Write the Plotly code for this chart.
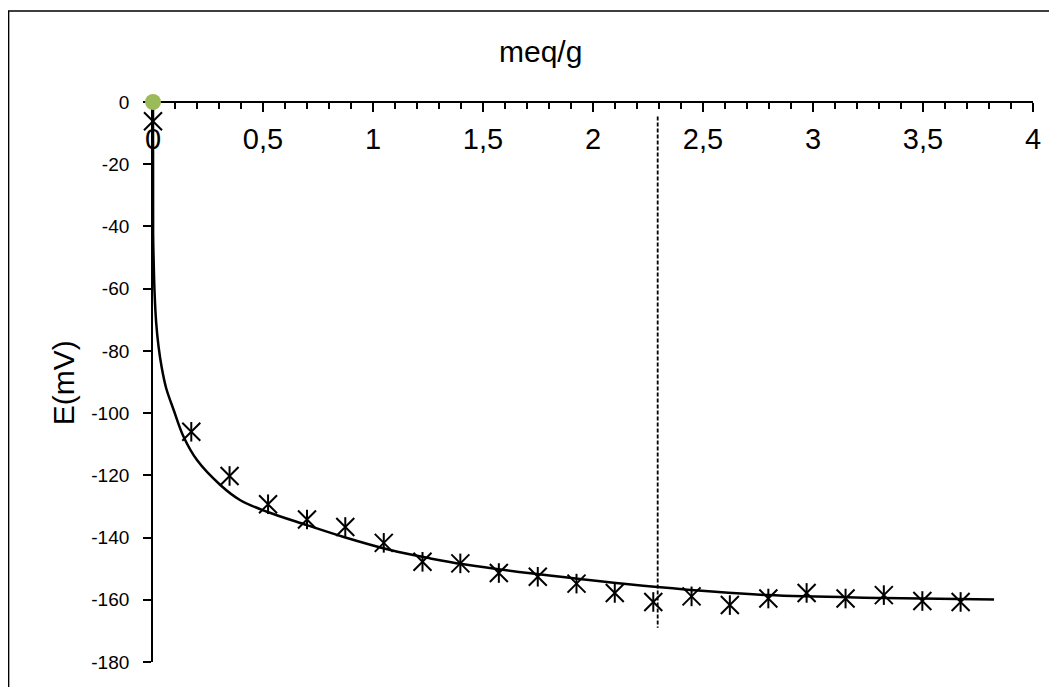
import plotly.graph_objects as go

# Measured points (asterisks)
x_meas = [0.0, 0.174, 0.348, 0.523, 0.700, 0.874, 1.049, 1.225, 1.397, 1.572, 1.749,
          1.925, 2.099, 2.274, 2.448, 2.622, 2.797, 2.971, 3.148, 3.322, 3.497, 3.671]
y_meas = [-6.2, -106.0, -120.2, -129.3, -134.2, -136.6, -141.7, -147.8, -148.3, -151.4, -152.6,
          -154.8, -157.8, -160.7, -158.9, -161.7, -159.6, -157.8, -159.6, -158.5, -160.4, -160.7]

# Fitted curve
x_fit = [0.0, 0.0005, 0.003, 0.007, 0.014, 0.025, 0.040, 0.060, 0.094, 0.139,
         0.200, 0.306, 0.397, 0.518, 0.700, 0.867, 1.079, 1.261, 1.412, 1.716,
         2.292, 2.792, 3.322, 3.823]
y_fit = [0.0, -42.0, -51.0, -61.0, -70.5, -78.5, -85.5, -92.0, -99.0, -107.6,
         -115.1, -123.1, -128.0, -131.7, -136.0, -139.8, -144.0, -146.7, -148.6, -151.5,
         -155.9, -158.5, -159.4, -159.9]

# Origin point
x_origin = [0.0]
y_origin = [0.0]

# Equivalence line
x_eq = [2.294, 2.294]
y_eq = [-4.7, -169.0]

x_tickvals = [0, 0.5, 1, 1.5, 2, 2.5, 3, 3.5, 4]
x_ticktext = ["0", "0,5", "1", "1,5", "2", "2,5", "3", "3,5", "4"]
y_tickvals = [0, -20, -40, -60, -80, -100, -120, -140, -160, -180]
y_ticktext = ["0", "-20", "-40", "-60", "-80", "-100", "-120", "-140", "-160", "-180"]

# page has an 8px body margin: figure sized to fit the window
OFF = 8
W, H = 1057 - OFF, 687 - OFF
L, R, T, B = 152.7 - OFF, 24.3, 102.3 - OFF, 25.3
pw, ph = W - L - R, H - T - B

def px2paper_x(px):
    return (px - OFF - L) / pw

def px2paper_y(py):
    return (H - B - (py - OFF)) / ph

fig = go.Figure()

fig.add_trace(go.Scatter(x=x_eq, y=y_eq, mode="lines",
                         line=dict(color="black", width=1.8, dash="4px,2px"),
                         showlegend=False, hoverinfo="skip", cliponaxis=False))
fig.add_trace(go.Scatter(x=x_fit, y=y_fit, mode="lines",
                         line=dict(color="black", width=2.5, shape="spline", smoothing=1.0),
                         showlegend=False, cliponaxis=False))
fig.add_trace(go.Scatter(x=x_meas, y=y_meas, mode="markers",
                         marker=dict(symbol="x-thin-open", size=18, color="black",
                                     line=dict(color="black", width=2)),
                         showlegend=False, cliponaxis=False))
fig.add_trace(go.Scatter(x=x_meas, y=y_meas, mode="markers",
                         marker=dict(symbol="line-ns-open", size=14, color="black",
                                     line=dict(color="black", width=2)),
                         showlegend=False, cliponaxis=False))
fig.add_trace(go.Scatter(x=x_origin, y=y_origin, mode="markers",
                         marker=dict(symbol="circle", size=16, color="#9BBB59",
                                     line=dict(width=0)),
                         showlegend=False, cliponaxis=False))

fig.update_layout(
    width=W, height=H,
    margin=dict(l=L, r=R, t=T, b=B, autoexpand=False),
    paper_bgcolor="white", plot_bgcolor="white",
    font=dict(family="Liberation Sans, Arial, sans-serif", color="black"),
    xaxis=dict(range=[0, 4], anchor="free", position=1, side="bottom",
               layer="below traces",
               showline=True, linecolor="black", linewidth=1.75,
               showgrid=False, zeroline=False,
               tickmode="array", tickvals=x_tickvals, ticktext=x_ticktext,
               ticks="outside", ticklen=9, tickwidth=1.5, tickcolor="black",
               ticklabelstandoff=2,
               tickfont=dict(size=29, family="Liberation Sans, Arial, sans-serif"),
               minor=dict(dtick=0.1, tick0=0, ticks="outside", ticklen=6,
                          tickwidth=1.5, tickcolor="black", showgrid=False)),
    yaxis=dict(range=[-180, 0], domain=[0, 1],
               layer="below traces",
               showline=True, linecolor="black", linewidth=1.75,
               showgrid=False, zeroline=False,
               tickmode="array", tickvals=y_tickvals, ticktext=y_ticktext,
               ticks="outside", ticklen=8, tickwidth=1.5, tickcolor="black",
               ticklabelstandoff=10,
               tickfont=dict(size=19, family="Liberation Sans, Arial, sans-serif")),
    annotations=[
        dict(text="meq/g", xref="paper", yref="paper",
             x=px2paper_x(540), y=px2paper_y(52), xanchor="center", yanchor="middle",
             showarrow=False, font=dict(size=30)),
        dict(text="E(mV)", xref="paper", yref="paper",
             x=px2paper_x(63), y=px2paper_y(383), xanchor="center", yanchor="middle",
             textangle=-90, showarrow=False, font=dict(size=30)),
    ],
    shapes=[
        dict(type="rect", xref="paper", yref="paper",
             x0=px2paper_x(8.3), x1=px2paper_x(1070), y0=px2paper_y(710), y1=px2paper_y(11.5),
             line=dict(color="black", width=1.5), fillcolor="rgba(0,0,0,0)", layer="below"),
    ],
)

fig.write_html("out.html")
